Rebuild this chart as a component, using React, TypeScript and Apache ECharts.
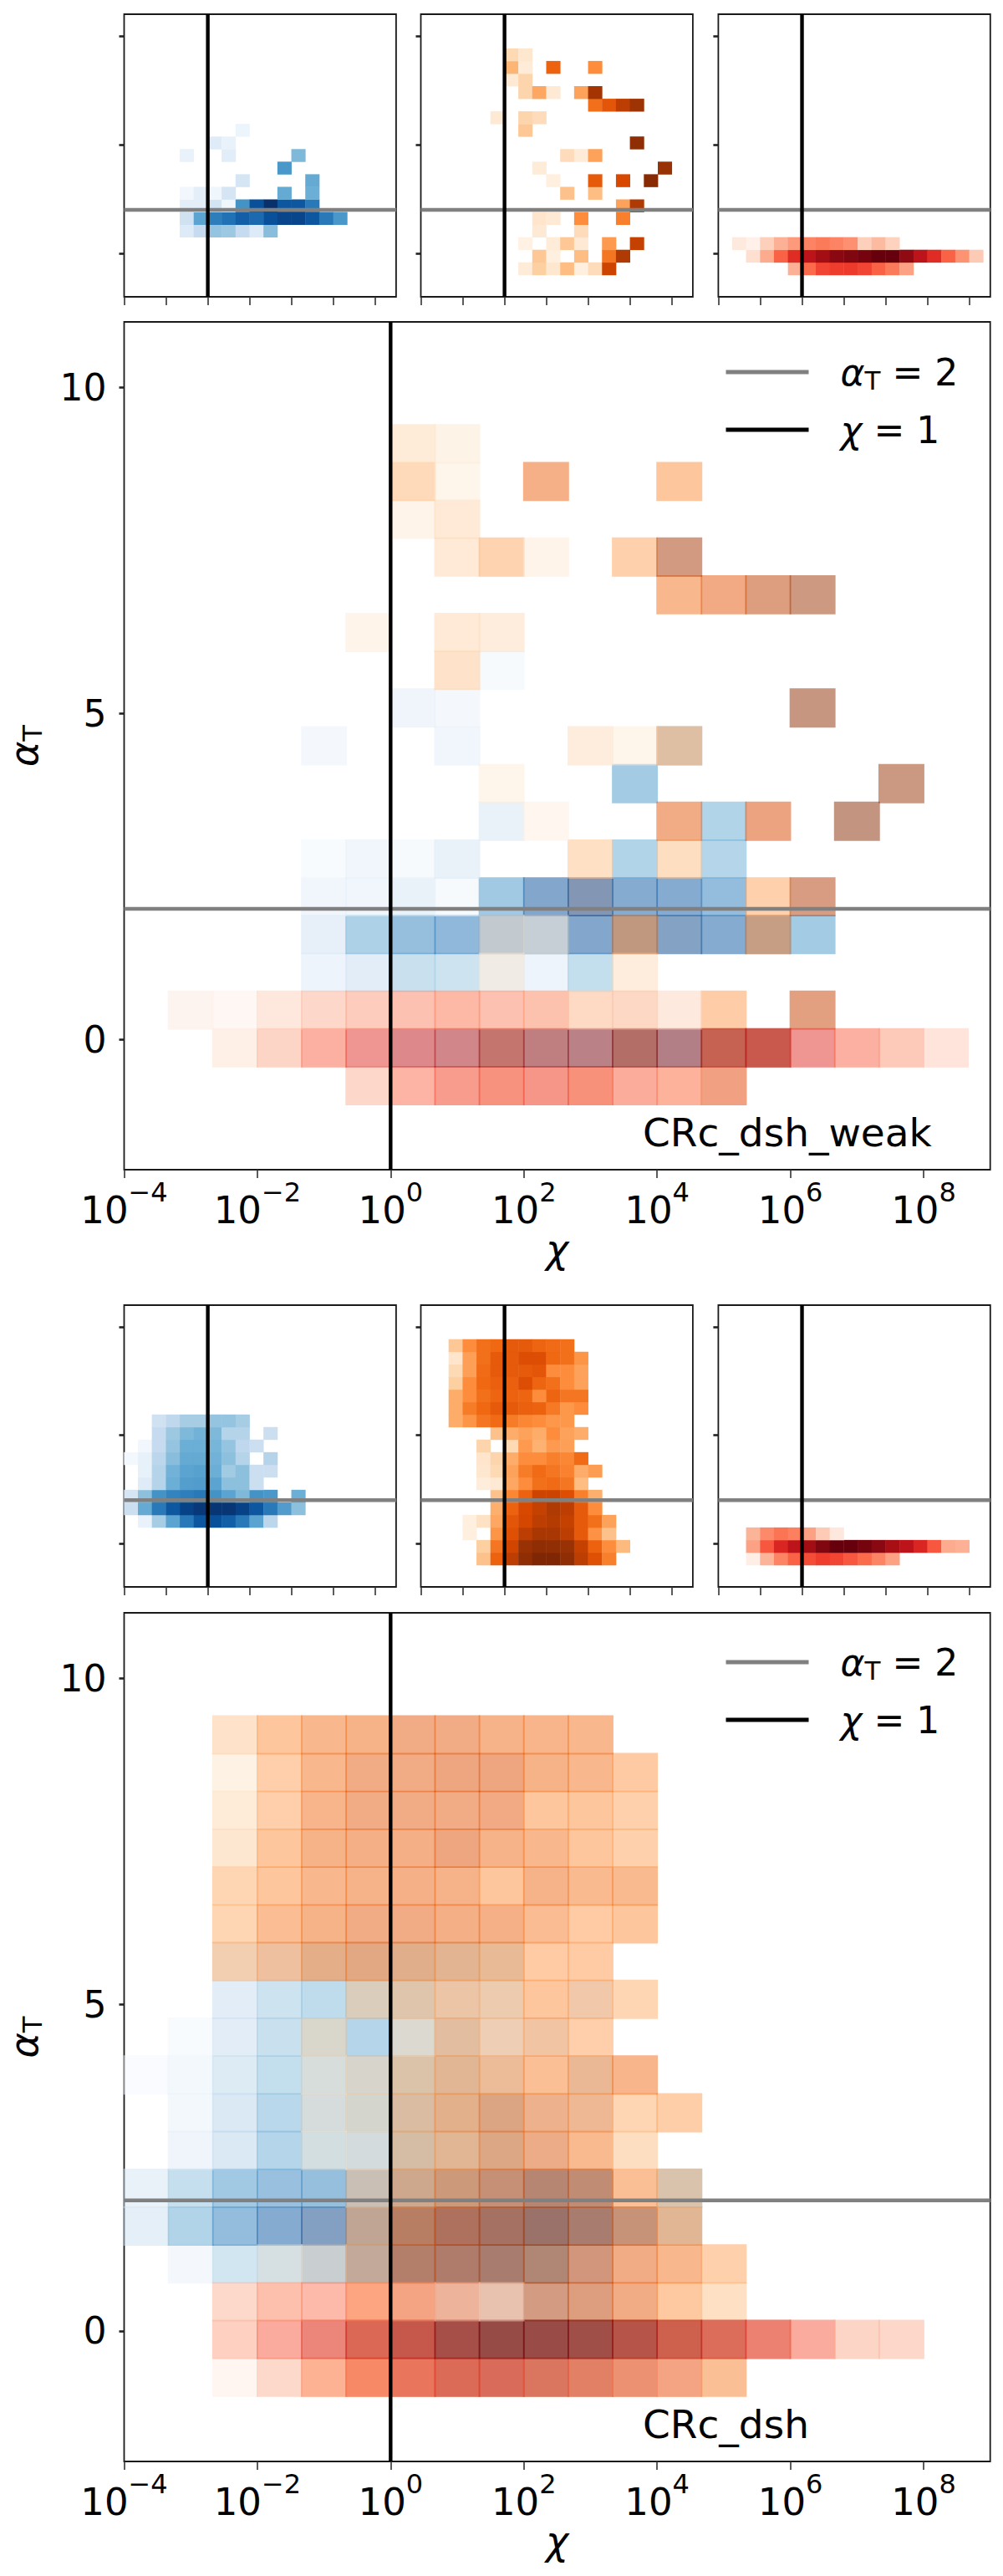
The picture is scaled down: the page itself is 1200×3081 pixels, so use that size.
import React, { useEffect, useRef } from "react";
import * as echarts from "echarts";

const BIN_X = 2 / 3;
const BIN_Y = 11 / 19;
const X_TICKS = [1e-4, 1e-2, 1, 1e2, 1e4, 1e6, 1e8];
const Y_TICKS = [0, 5, 10];

const BLUES = ["#f7fbff", "#deebf7", "#c6dbef", "#9ecae1", "#6baed6", "#4292c6", "#2171b5", "#08519c", "#08306b"];
const ORANGES = ["#fff5eb", "#fee6ce", "#fdd0a2", "#fdae6b", "#fd8d3c", "#f16913", "#d94801", "#a63603", "#7f2704"];
const REDS = ["#fff5f0", "#fee0d2", "#fcbba1", "#fc9272", "#fb6a4a", "#ef3b2c", "#cb181d", "#a50f15", "#67000d"];

// every row: [first column, shade of that column, of the next one, ...]; the row index counts from alpha_T = -1
const blueWeak = [
  [], [], [],
  [4, .13, .25, .4, .38, .25, .13, .43],
  [4, .2, .55, .7, .75, .82, .78, .88, .92, .92, .85, .72, .6],
  [4, .1, .1, .18, .04, .62, .88, 1, .85, .85, .72],
  [4, .03, .1, .04, .17, 0, 0, 0, .52, 0, .5],
  [8, .17, 0, 0, 0, 0, .52],
  [11, .6],
  [4, .07, 0, 0, .11, 0, 0, 0, 0, .45],
  [6, .12, .07],
  [8, .05],
];
const orangeWeak = [
  [7, .08, .25, .12, .32, .05, .18, .78],
  [8, .28, .05, 0, .32, 0, .58, .85],
  [7, .03, 0, .08, .28, .1, 0, .45, 0, .8],
  [8, .1, 0, 0, .18],
  [8, .13, .1, 0, .5, 0, 0, .55],
  [14, .42, .85],
  [10, .3, 0, .32],
  [9, .05, 0, 0, .68, 0, .75, 0, .97],
  [8, .08, 0, 0, 0, 0, 0, 0, 0, 0, .92],
  [10, .18, .08, .42],
  [15, .95],
  [7, .28],
  [5, .1, 0, .22, .18],
  [12, .6, .7, .82, .9],
  [7, .22, .4, .1, 0, .42, .88],
  [6, .1, .22],
  [6, .35, .08, 0, .65, 0, 0, .5],
  [6, .2, .12],
];
const redWeak = [
  [5, .28, .5, .6, .62, .63, .6, .52, .45, .33],
  [2, .13, .3, .52, .68, .8, .88, .93, .95, .97, 1, 1, .92, .8, .68, .52, .37, .2],
  [1, .07, .03, .18, .28, .35, .42, .45, .42, .38, .18, .25, .17],
];
const blueDsh = [
  [], [], [],
  [1, .07, .35, .55, .72, .85, .88, .82, .72, .55, .28],
  [0, .22, .52, .72, .85, .93, .97, .98, .98, .93, .85, .72, .58, .42],
  [0, .17, .42, .62, .68, .7, .72, .62, .55, .45, .62, .6, 0, .5],
  [1, .12, .3, .5, .57, .58, .55, .42, .42, .22],
  [1, .08, .3, .48, .55, .56, .5, .37, .42, .22, .22],
  [0, .02, .08, .28, .43, .52, .52, .48, .42, .3, 0, .3],
  [1, .03, .25, .4, .5, .5, .47, .4, .27, .22],
  [2, .25, .38, .45, .48, .45, .3, .3, 0, .22],
  [2, .2, .27, .35, .35, .4, .4, .35],
];
const orangeDsh = [
  [4, .3, .65, .82, .95, 1, 1, .95, .82, .72, .55],
  [4, .25, .58, .77, .92, .95, .94, .92, .8, .65, .5, .33],
  [3, .05, 0, .47, .72, .82, .87, .87, .82, .68, .48, .3],
  [3, .05, .15, .4, .7, .76, .82, .84, .8, .68, .6, .42],
  [5, .37, .65, .75, .8, .85, .82, .68, .5],
  [5, .3, .52, .65, .78, .78, .73, .55, .37],
  [4, .07, .1, .4, .5, .6, .62, .58, .32],
  [4, .12, .2, .42, .56, .62, .58, .54, .38, .44],
  [4, .13, .22, .38, .5, .5, .55, .52, .62],
  [4, .22, 0, .2, .45, .36, .45, .43],
  [5, .3, .38, .42, .38, .5, .42, .38],
  [2, .38, .47, .58, .62, .56, .52, .5, .46, .46],
  [2, .38, .56, .63, .68, .68, .66, .65, .57, .46, .5],
  [2, .38, .5, .6, .64, .65, .64, .5, .64, .58, .58],
  [2, .25, .5, .63, .66, .66, .73, .64, .6, .5, .42],
  [2, .2, .43, .62, .68, .68, .68, .7, .5, .5, .42],
  [2, .13, .43, .6, .68, .68, .73, .73, .63, .6, .47],
  [2, .28, .5, .6, .63, .68, .68, .64, .62, .6],
];
const redDsh = [
  [2, .04, .27, .42, .52, .58, .62, .6, .55, .5, .42, .33],
  [2, .33, .55, .7, .8, .88, .95, 1, 1, .97, .93, .87, .8, .7, .55, .3, .28],
  [2, .27, .4, .47, .43, .33, .2, .08],
];

const FONT = "DejaVu Sans";
const SPINE = "#1a1a1a";
const LEGEND_GREY = "\u03b1T = 2";
const LEGEND_BLACK = "\u03c7 = 1";

function shade(ramp: string[], t: number) {
  const p = Math.min(0.9999, Math.max(0, t)) * (ramp.length - 1);
  const i = Math.floor(p);
  const f = p - i;
  const c = (s: string, o: number) => parseInt(s.slice(o, o + 2), 16);
  const mix = (o: number) => Math.round(c(ramp[i], o) * (1 - f) + c(ramp[i + 1], o) * f);
  return `rgb(${mix(1)},${mix(3)},${mix(5)})`;
}

function cells(rows: number[][]) {
  const out: number[][] = [];
  rows.forEach((row, r) => {
    const [first, ...vals] = row;
    vals.forEach((v, i) => {
      if (v > 0) {
        const k = first + i;
        out.push([10 ** (-4 + k * BIN_X), -1 + r * BIN_Y, 10 ** (-4 + (k + 1) * BIN_X), -1 + (r + 1) * BIN_Y, v]);
      }
    });
  });
  return out;
}

function heat(grid: number, rows: number[][], ramp: string[], alpha: number, bleed: number) {
  return {
    type: "custom",
    xAxisIndex: grid,
    yAxisIndex: grid,
    z: 2,
    silent: true,
    encode: { x: [0, 2], y: [1, 3] },
    data: cells(rows),
    renderItem: (_p: any, api: any) => {
      const a = api.coord([api.value(0), api.value(1)]);
      const b = api.coord([api.value(2), api.value(3)]);
      return {
        type: "rect",
        shape: {
          x: a[0] - bleed,
          y: b[1] - bleed,
          width: b[0] - a[0] + 2 * bleed,
          height: a[1] - b[1] + 2 * bleed,
        },
        style: { fill: shade(ramp, api.value(4)), opacity: alpha },
      };
    },
  };
}

function rules(grid: number) {
  const base = { type: "line", xAxisIndex: grid, yAxisIndex: grid, z: 5, silent: true, showSymbol: false, symbol: "none" };
  return [
    { ...base, name: LEGEND_GREY, color: "#808080", lineStyle: { color: "#808080", width: 4.6 }, data: [[1e-4, 2], [1e9, 2]] },
    { ...base, name: LEGEND_BLACK, color: "#000", lineStyle: { color: "#000", width: 4.4 }, data: [[1, -2], [1, 11]] },
  ];
}

const AXIS_RICH = {
  b: { fontFamily: FONT, fontSize: 45, lineHeight: 60, verticalAlign: "bottom", color: "#000" },
  s: { fontFamily: FONT, fontSize: 32, lineHeight: 32, verticalAlign: "top", color: "#000" },
};

function axes(grid: number, big: boolean) {
  const xAxis: any = {
    type: "log",
    logBase: 10,
    gridIndex: grid,
    min: 1e-4,
    max: 1e9,
    splitLine: { show: false },
    minorTick: { show: false },
    axisLine: { show: false, onZero: false },
    axisTick: { show: true, length: 10, customValues: X_TICKS, lineStyle: { color: "#333", width: 1.6 } },
    axisLabel: {
      show: big,
      margin: 11,
      customValues: X_TICKS,
      formatter: (v: number) => `{b|10}{s|${String(Math.round(Math.log10(v))).replace("-", "\u2212")}}`,
      rich: AXIS_RICH,
    },
  };
  const yAxis: any = {
    type: "value",
    gridIndex: grid,
    min: -2,
    max: 11,
    splitLine: { show: false },
    axisLine: { show: false, onZero: false },
    axisTick: { show: true, length: 6, customValues: Y_TICKS, lineStyle: { color: "#222", width: 2.6 } },
    axisLabel: { show: big, margin: 21, customValues: Y_TICKS, fontFamily: FONT, fontSize: 44, color: "#000" },
  };
  if (big) {
    xAxis.name = "\u03c7";
    xAxis.nameLocation = "middle";
    xAxis.nameGap = 65;
    xAxis.nameTextStyle = { fontFamily: FONT, fontSize: 46, fontStyle: "italic", color: "#000" };
    yAxis.name = "{a|\u03b1}{t|T}";
    yAxis.nameLocation = "middle";
    yAxis.nameGap = 94;
    yAxis.nameTextStyle = {
      rich: {
        a: { fontFamily: FONT, fontSize: 46, fontStyle: "italic", lineHeight: 52, color: "#000" },
        t: { fontFamily: FONT, fontSize: 32, lineHeight: 32, verticalAlign: "bottom", color: "#000" },
      },
    };
  }
  return { xAxis, yAxis };
}

function legendAt(top: number) {
  return {
    left: 868.5,
    top,
    orient: "vertical",
    itemWidth: 99,
    itemHeight: 5,
    itemGap: 22,
    icon: "rect",
    selectedMode: false,
    padding: 0,
    data: [LEGEND_GREY, LEGEND_BLACK],
    formatter: (n: string) => (n === LEGEND_GREY ? "{a|\u03b1}{t|T}{n| = 2}" : "{a|\u03c7}{n| = 1}"),
    textStyle: {
      rich: {
        a: { fontFamily: FONT, fontSize: 44, fontStyle: "italic", lineHeight: 50, padding: [0, 0, 0, 33], color: "#000" },
        t: { fontFamily: FONT, fontSize: 31, lineHeight: 31, verticalAlign: "bottom", color: "#000" },
        n: { fontFamily: FONT, fontSize: 44, lineHeight: 50, color: "#000" },
      },
    },
  };
}

function note(text: string, top: number) {
  return {
    type: "text",
    x: 769,
    y: top,
    z: 20,
    silent: true,
    style: { text, fontFamily: FONT, fontSize: 47, fill: "#000", textVerticalAlign: "top" },
  };
}

const SMALL_X = [148.5, 503.5, 859.4];
const SMALL_W = 325.4;
const MAIN_X = 148.5;
const MAIN_W = 1036.2;
const ROWS = [
  { smallTop: 17, smallH: 338, mainTop: 385, mainH: 1014, blue: blueWeak, orange: orangeWeak, red: redWeak },
  { smallTop: 1561, smallH: 337, mainTop: 1929, mainH: 1015, blue: blueDsh, orange: orangeDsh, red: redDsh },
];

function buildOption() {
  const grid: any[] = [];
  const xAxis: any[] = [];
  const yAxis: any[] = [];
  const series: any[] = [];
  const add = (left: number, top: number, width: number, height: number, big: boolean) => {
    const i = grid.length;
    grid.push({ left, top, width, height, show: true, borderColor: SPINE, borderWidth: 1.8, backgroundColor: "#fff", containLabel: false, outerBoundsMode: "none", z: 0 });
    const a = axes(i, big);
    xAxis.push(a.xAxis);
    yAxis.push(a.yAxis);
    return i;
  };
  ROWS.forEach((row) => {
    [row.blue, row.orange, row.red].forEach((rows, j) => {
      const g = add(SMALL_X[j], row.smallTop, SMALL_W, row.smallH, false);
      series.push(heat(g, rows, [BLUES, ORANGES, REDS][j], 1, 0.2), ...rules(g));
    });
    const g = add(MAIN_X, row.mainTop, MAIN_W, row.mainH, true);
    series.push(
      heat(g, row.blue, BLUES, 0.5, 0.9),
      heat(g, row.orange, ORANGES, 0.5, 0.9),
      heat(g, row.red, REDS, 0.5, 0.9),
      ...rules(g),
    );
  });
  return {
    animation: false,
    backgroundColor: "#fff",
    grid,
    xAxis,
    yAxis,
    series,
    legend: [legendAt(423), legendAt(1966)],
    graphic: [note("CRc_dsh_weak", 1331), note("CRc_dsh", 2876)],
  };
}

export default function App() {
  const ref = useRef<HTMLDivElement>(null);
  useEffect(() => {
    const chart = echarts.init(ref.current!, undefined, { renderer: "svg" });
    chart.setOption(buildOption() as any);
    return () => chart.dispose();
  }, []);
  return <div ref={ref} style={{ position: "absolute", left: 0, top: 0, width: 1200, height: 3081 }} />;
}
